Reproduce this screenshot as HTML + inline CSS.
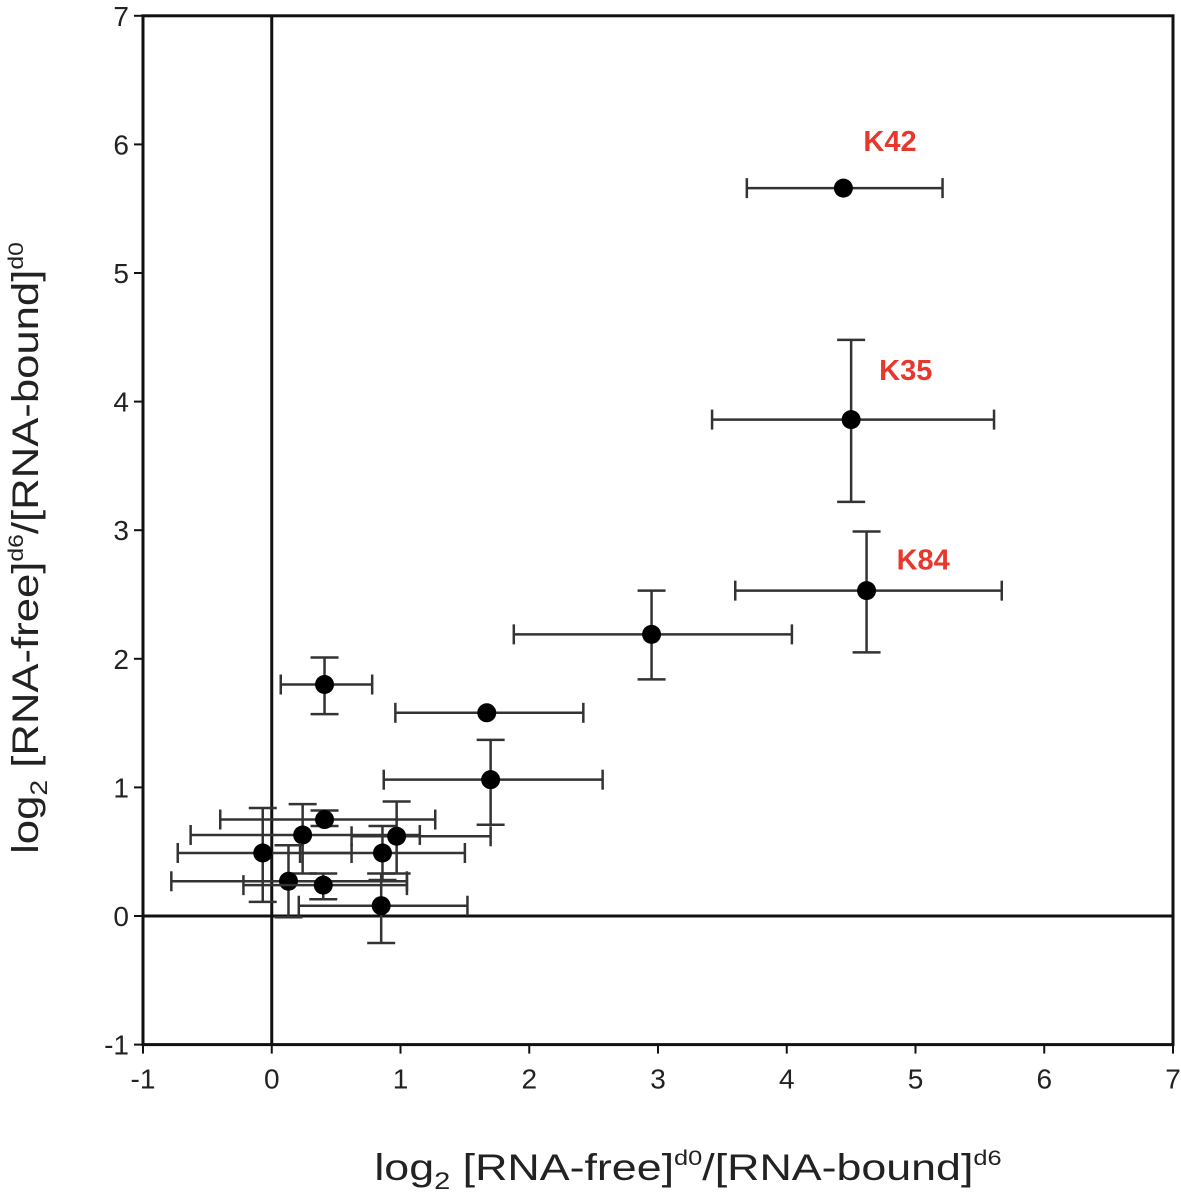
<!DOCTYPE html>
<html><head><meta charset="utf-8"><style>
body{margin:0;background:#fff}
svg{display:block;font-family:"Liberation Sans",Arial,sans-serif}
</style></head><body>
<svg id="chart" width="1181" height="1197" viewBox="0 0 1181 1197">
<g id="grid"></g>
<g id="marks"></g>
<text transform="translate(688,1180) scale(1.21,1)" x="0" y="0" text-anchor="middle" font-size="37" fill="#222">log<tspan font-size="24" dy="9">2</tspan><tspan dy="-9"> [RNA-free]</tspan><tspan font-size="21" dy="-15">d0</tspan><tspan dy="15">/[RNA-bound]</tspan><tspan font-size="21" dy="-15">d6</tspan></text>
<text transform="translate(38,548) rotate(-90) scale(1.18,1)" text-anchor="middle" font-size="37" fill="#222">log<tspan font-size="24" dy="9">2</tspan><tspan dy="-9"> [RNA-free]</tspan><tspan font-size="21" dy="-15">d6</tspan><tspan dy="15">/[RNA-bound]</tspan><tspan font-size="21" dy="-15">d0</tspan></text>
</svg>
<script>
const xs=[4.44,4.50,4.62,2.95,0.41,1.67,1.70,0.41,0.24,0.97,-0.07,0.86,0.13,0.40,0.85];
const ys=[5.66,3.86,2.53,2.19,1.80,1.58,1.06,0.75,0.63,0.62,0.49,0.49,0.27,0.24,0.08];
const xLo=[3.69,3.42,3.60,1.88,0.07,0.96,0.87,-0.40,-0.63,0.62,-0.73,0.22,-0.78,-0.22,0.21];
const xHi=[5.21,5.61,5.67,4.04,0.78,2.42,2.57,1.27,1.15,1.70,0.62,1.50,1.05,1.05,1.52];
const yLo=[5.66,3.22,2.05,1.84,1.57,1.58,0.71,0.70,0.33,0.33,0.11,0.28,-0.01,0.13,-0.21];
const yHi=[5.66,4.48,2.99,2.53,2.01,1.58,1.37,0.82,0.87,0.89,0.84,0.70,0.55,0.33,0.33];
const labels=[[0,'K42'],[1,'K35'],[2,'K84']];
const ticks=[-1,0,1,2,3,4,5,6,7];
const X=v=>271.75+128.75*v, Y=v=>916-128.6*v;
const NS='http://www.w3.org/2000/svg';
const grid=document.getElementById('grid'), marks=document.getElementById('marks');
function mk(p,tag,a){const e=document.createElementNS(NS,tag);for(const k in a)e.setAttribute(k,a[k]);p.appendChild(e);return e;}
let f=mk(grid,'rect',{x:X(-1),y:Y(7),width:X(7)-X(-1),height:Y(-1)-Y(7),fill:'none',stroke:'#111','stroke-width':3});


let zx=mk(grid,'line',{x1:X(0),x2:X(0),y1:Y(7),y2:Y(-1),stroke:'#111','stroke-width':3});


let zy=mk(grid,'line',{x1:X(-1),x2:X(7),y1:Y(0),y2:Y(0),stroke:'#111','stroke-width':3});


ticks.forEach(t=>{
 mk(grid,'line',{x1:X(t),x2:X(t),y1:Y(-1),y2:Y(-1)+9,stroke:'#111','stroke-width':2});
 mk(grid,'line',{x1:X(-1)-9,x2:X(-1),y1:Y(t),y2:Y(t),stroke:'#111','stroke-width':2});
 const tx=mk(grid,'text',{x:X(t),y:Y(-1)+44,'text-anchor':'middle','font-size':28,fill:'#222'});tx.textContent=t;
 
 
 const ty=mk(grid,'text',{x:X(-1)-14,y:Y(t)+10,'text-anchor':'end','font-size':28,fill:'#222'});ty.textContent=t;
 
 
});
xs.forEach((x,i)=>{
 const g=mk(marks,'g',{stroke:'#333','stroke-width':2.5});
 
 
 const y=ys[i];
 mk(g,'line',{x1:X(xLo[i]),x2:X(xHi[i]),y1:Y(y),y2:Y(y)});
 mk(g,'line',{x1:X(xLo[i]),x2:X(xLo[i]),y1:Y(y)-10,y2:Y(y)+10});
 mk(g,'line',{x1:X(xHi[i]),x2:X(xHi[i]),y1:Y(y)-10,y2:Y(y)+10});
 if(yHi[i]!==yLo[i]){
  mk(g,'line',{x1:X(x),x2:X(x),y1:Y(yLo[i]),y2:Y(yHi[i])});
  mk(g,'line',{x1:X(x)-14,x2:X(x)+14,y1:Y(yLo[i]),y2:Y(yLo[i])});
  mk(g,'line',{x1:X(x)-14,x2:X(x)+14,y1:Y(yHi[i]),y2:Y(yHi[i])});
 }
 mk(g,'circle',{cx:X(x),cy:Y(y),r:9.5,fill:'#000',stroke:'none'});
});
labels.forEach(([i,t])=>{
 const e=mk(marks,'text',{x:X(xs[i])+20,y:Y(yHi[i])-37,'font-size':29,'font-weight':'bold',fill:'#e8372d'});
 if(i===1){e.setAttribute('x',X(xs[i])+28);e.setAttribute('y',Y(yHi[i])+40);}
 if(i===2){e.setAttribute('x',X(xs[i])+30);e.setAttribute('y',Y(yHi[i])+38);}
 e.textContent=t;
 
 
});
</script>
</body></html>
